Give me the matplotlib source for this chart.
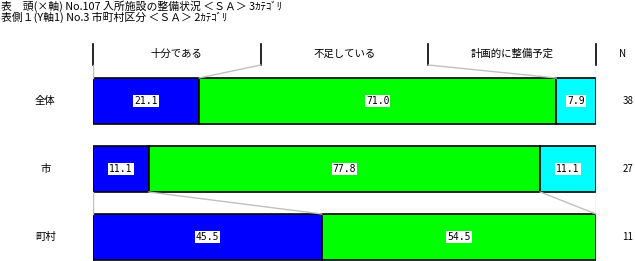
import numpy as np
import matplotlib
matplotlib.use('Agg')
import matplotlib.pyplot as plt

plt.rcParams['font.family'] = ['Noto Sans CJK JP', 'DejaVu Sans']

# datos
titulo1 = '表　頭(×軸) No.107 入所施設の整備状況 ＜ＳＡ＞ 3ｶﾃｺﾞﾘ'
titulo2 = '表側１(Y軸1) No.3 市町村区分 ＜ＳＡ＞ 2ｶﾃｺﾞﾘ'
categorias = ['十分である', '不足している', '計画的に整備予定']
grupos = ['全体', '市', '町村']
n_grupos = [38, 27, 11]
valores = [
    [21.1, 71.0, 7.9],
    [11.1, 77.8, 11.1],
    [45.5, 54.5, 0.0],
]
colores = ['#0000FF', '#00FF00', '#00FFFF']

# posiciones en pixeles (eje y invertido)
y_centro = [101, 169, 237]
alto = 46
gris = '#C0C0C0'

fig = plt.figure(figsize=(6.35, 2.61), dpi=100)
ax = fig.add_axes([93 / 635, 0, 503 / 635, 1])
ax.set_xlim(0, 100)
ax.set_ylim(261, 0)
ax.axis('off')

# barras apiladas
for i, fila in enumerate(valores):
    izq = 0
    for j, v in enumerate(fila):
        if v > 0:
            ax.barh(y_centro[i], v, height=alto, left=izq, color=colores[j],
                    edgecolor='black', linewidth=1.2)
            ax.text(izq + v / 2, y_centro[i], '%.1f' % v, ha='center', va='center',
                    fontsize=7, family='DejaVu Sans Mono',
                    bbox=dict(facecolor='white', edgecolor='none', pad=0.6))
        izq += v
    ax.text(-9.5, y_centro[i], grupos[i], ha='center', va='center', fontsize=7.5, clip_on=False)
    ax.text(106.3, y_centro[i], str(n_grupos[i]), ha='center', va='center', fontsize=7, clip_on=False)

# cabecera
k = len(categorias)
bordes = [100 * b / k for b in range(k + 1)]
for b in bordes:
    ax.plot([b, b], [44, 65], color='black', lw=1.2, clip_on=False)
for j, c in enumerate(categorias):
    ax.text((bordes[j] + bordes[j + 1]) / 2, 54, c, ha='center', va='center', fontsize=7.5)
ax.text(105.3, 54, 'N', ha='center', va='center', fontsize=7, clip_on=False)

# lineas de union cabecera -> primera barra
acum0 = np.concatenate([[0], np.cumsum(valores[0])])
for b, a in zip(bordes, acum0):
    ax.plot([b, a], [65, y_centro[0] - alto / 2], color=gris, lw=1)

# lineas de union entre subgrupos
for i in range(1, len(valores) - 1):
    a1 = np.concatenate([[0], np.cumsum(valores[i])])
    a2 = np.concatenate([[0], np.cumsum(valores[i + 1])])
    for p, q in zip(a1, a2):
        ax.plot([p, q], [y_centro[i] + alto / 2, y_centro[i + 1] - alto / 2], color=gris, lw=1)

fig.text(1 / 635, 1 - 6 / 261, titulo1, ha='left', va='center', fontsize=7.8)
fig.text(1 / 635, 1 - 17 / 261, titulo2, ha='left', va='center', fontsize=7.8)

fig.savefig('out.png', dpi=100)
